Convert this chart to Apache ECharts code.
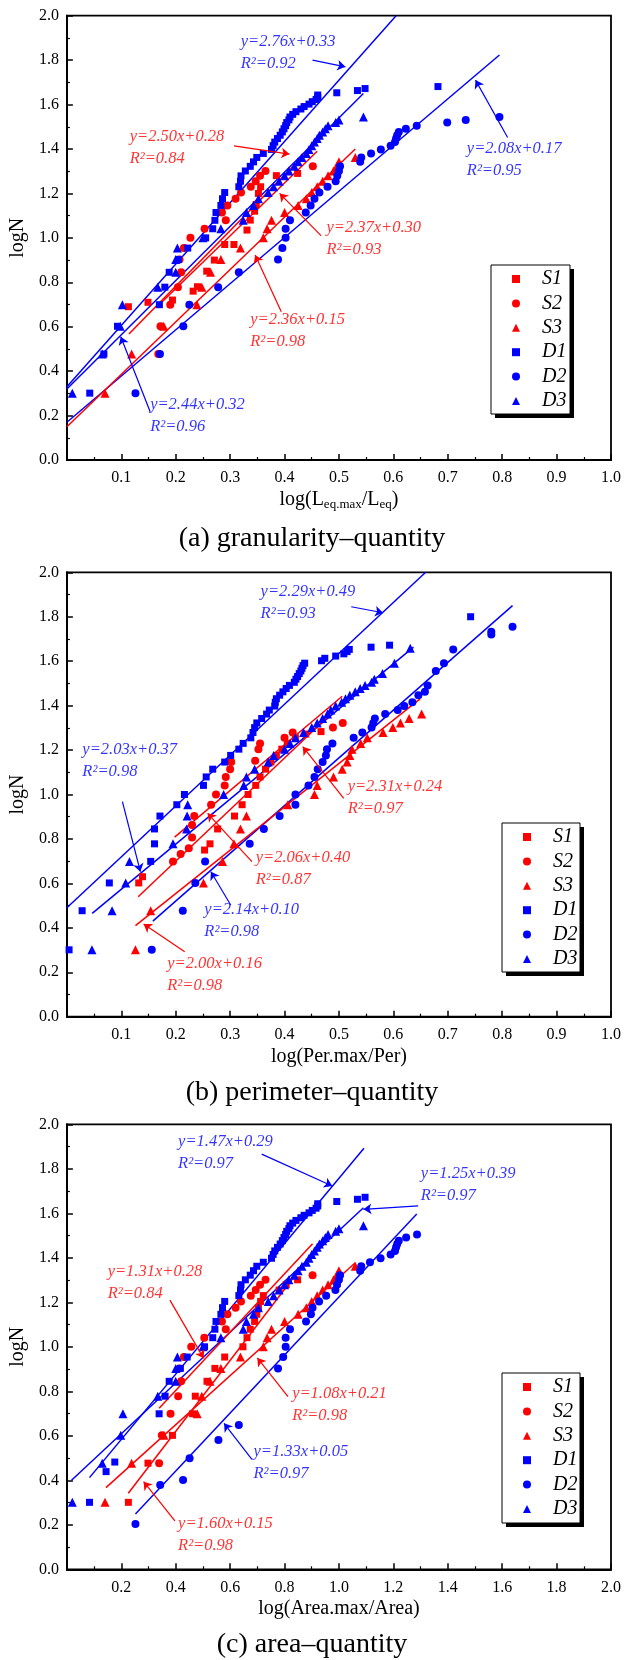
<!DOCTYPE html>
<html><head><meta charset="utf-8">
<script src="https://cdn.jsdelivr.net/npm/echarts@6/dist/echarts.min.js"></script>
<style>html,body{margin:0;padding:0;background:#fff}#c{width:624px;height:1660px}</style>
</head><body><div id="c"></div>
<script>
// ---------------- DATA ----------------
const seriesNames = ['S1','S2','S3','D1','D2','D3'];
const yTicks = [0,0.2,0.4,0.6,0.8,1.0,1.2,1.4,1.6,1.8,2.0];
const captions = ['(a) granularity\u2013quantity','(b) perimeter\u2013quantity','(c) area\u2013quantity'];

// Panel (a): log(Leq.max/Leq) vs logN
const a_S1 = [[0.113,0.69],[0.149,0.71],[0.194,0.72],[0.232,0.76],[0.240,0.78],[0.257,0.85],[0.271,0.90],[0.290,0.97],[0.307,0.97],[0.331,1.035],[0.337,1.08],[0.345,1.12],[0.348,1.15],[0.352,1.20],[0.356,1.23],[0.385,1.28],[0.424,1.29]];
const a_S2 = [[0.168,0.477],[0.172,0.602],[0.190,0.699],[0.204,0.778],[0.210,0.845],[0.207,0.903],[0.215,0.954],[0.227,1.0],[0.253,1.041],[0.292,1.079],[0.285,1.114],[0.295,1.146],[0.310,1.176],[0.320,1.204],[0.338,1.230],[0.347,1.255],[0.355,1.279],[0.365,1.301],[0.452,1.322]];
const a_S3 = [[0.070,0.301],[0.119,0.477],[0.178,0.602],[0.239,0.699],[0.248,0.778],[0.264,0.845],[0.283,0.903],[0.319,0.954],[0.361,1.0],[0.368,1.041],[0.376,1.079],[0.400,1.114],[0.425,1.146],[0.440,1.176],[0.450,1.204],[0.460,1.230],[0.470,1.255],[0.480,1.279],[0.490,1.301],[0.496,1.322],[0.500,1.342],[0.530,1.362]];
const a_D1 = [[0.042,0.301],[0.068,0.477],[0.093,0.602],[0.170,0.699],[0.180,0.778],[0.188,0.845],[0.205,0.903],[0.222,0.954],[0.255,1.0],[0.268,1.041],[0.272,1.079],[0.274,1.114],[0.283,1.146],[0.286,1.176],[0.290,1.204],[0.316,1.230],[0.319,1.255],[0.320,1.279],[0.328,1.301],[0.337,1.322],[0.343,1.342],[0.349,1.362],[0.361,1.380],[0.376,1.398],[0.379,1.415],[0.382,1.431],[0.387,1.447],[0.392,1.462],[0.396,1.477],[0.399,1.491],[0.402,1.505],[0.404,1.519],[0.408,1.531],[0.410,1.544],[0.415,1.556],[0.421,1.568],[0.430,1.580],[0.436,1.591],[0.445,1.602],[0.451,1.613],[0.458,1.623],[0.461,1.633],[0.461,1.643],[0.496,1.653],[0.534,1.663],[0.548,1.672],[0.682,1.681]];
const a_D2 = [[0.126,0.301],[0.171,0.477],[0.214,0.602],[0.225,0.699],[0.278,0.778],[0.316,0.845],[0.388,0.903],[0.396,0.954],[0.402,1.0],[0.402,1.041],[0.410,1.079],[0.439,1.114],[0.448,1.146],[0.455,1.176],[0.464,1.204],[0.479,1.230],[0.494,1.255],[0.497,1.279],[0.500,1.301],[0.502,1.322],[0.539,1.342],[0.541,1.362],[0.559,1.380],[0.577,1.398],[0.595,1.415],[0.603,1.431],[0.605,1.447],[0.607,1.462],[0.610,1.477],[0.623,1.491],[0.643,1.505],[0.699,1.519],[0.733,1.531],[0.795,1.544]];
const a_D3 = [[0.010,0.301],[0.065,0.477],[0.098,0.602],[0.102,0.699],[0.167,0.778],[0.200,0.845],[0.200,0.903],[0.203,0.954],[0.250,1.0],[0.283,1.041],[0.324,1.079],[0.330,1.114],[0.343,1.146],[0.352,1.176],[0.370,1.204],[0.380,1.230],[0.390,1.255],[0.400,1.279],[0.408,1.301],[0.418,1.322],[0.425,1.342],[0.432,1.362],[0.440,1.380],[0.445,1.398],[0.450,1.415],[0.455,1.431],[0.460,1.447],[0.464,1.462],[0.470,1.477],[0.475,1.491],[0.480,1.505],[0.494,1.519],[0.500,1.531],[0.545,1.544]];
const a_fits = [[[0,0.33],[0.605,2.0]],[[0,0.32],[0.545,1.65]],[[0,0.17],[0.795,1.823]],[[0,0.15],[0.53,1.40]],[[0.114,0.567],[0.47,1.458]],[[0.17,0.70],[0.46,1.39]]];
const a_eq = ['y=2.76x+0.33','y=2.08x+0.17','y=2.50x+0.28','y=2.37x+0.30','y=2.36x+0.15','y=2.44x+0.32'];
const a_r2 = ['R\u00b2=0.92','R\u00b2=0.95','R\u00b2=0.84','R\u00b2=0.93','R\u00b2=0.98','R\u00b2=0.96'];

// Panel (b): log(Per.max/Per) vs logN
const b_S1 = [[0.132,0.602],[0.139,0.63],[0.253,0.75],[0.263,0.778],[0.277,0.845],[0.308,0.903],[0.322,0.954],[0.333,1.0],[0.347,1.041],[0.355,1.079],[0.365,1.114],[0.375,1.146],[0.385,1.176],[0.395,1.204],[0.405,1.230],[0.420,1.255],[0.439,1.272],[0.467,1.283]];
const b_S2 = [[0.195,0.699],[0.209,0.732],[0.224,0.758],[0.230,0.807],[0.230,0.863],[0.234,0.903],[0.265,0.954],[0.274,1.0],[0.290,1.041],[0.292,1.079],[0.300,1.114],[0.302,1.146],[0.346,1.152],[0.352,1.204],[0.355,1.230],[0.400,1.255],[0.415,1.279],[0.489,1.301],[0.507,1.322]];
const b_S3 = [[0.126,0.301],[0.154,0.477],[0.251,0.602],[0.286,0.699],[0.307,0.778],[0.319,0.845],[0.330,0.903],[0.406,0.954],[0.455,1.0],[0.460,1.041],[0.490,1.079],[0.506,1.114],[0.515,1.146],[0.520,1.176],[0.524,1.204],[0.540,1.230],[0.552,1.255],[0.581,1.279],[0.599,1.301],[0.613,1.322],[0.629,1.342],[0.652,1.362]];
const b_D1 = [[0.004,0.301],[0.028,0.477],[0.078,0.602],[0.154,0.699],[0.161,0.778],[0.161,0.845],[0.171,0.903],[0.202,0.954],[0.216,1.0],[0.251,1.041],[0.256,1.079],[0.268,1.114],[0.290,1.146],[0.301,1.176],[0.316,1.204],[0.324,1.230],[0.338,1.255],[0.342,1.279],[0.345,1.301],[0.349,1.322],[0.358,1.342],[0.367,1.362],[0.372,1.380],[0.382,1.398],[0.383,1.415],[0.385,1.431],[0.391,1.447],[0.397,1.462],[0.403,1.477],[0.409,1.491],[0.418,1.505],[0.421,1.519],[0.424,1.531],[0.427,1.544],[0.430,1.556],[0.432,1.568],[0.434,1.580],[0.437,1.591],[0.468,1.602],[0.474,1.613],[0.494,1.623],[0.509,1.633],[0.515,1.643],[0.519,1.653],[0.559,1.663],[0.593,1.672],[0.742,1.80]];
const b_D2 = [[0.156,0.301],[0.213,0.477],[0.236,0.602],[0.254,0.699],[0.336,0.778],[0.362,0.845],[0.391,0.903],[0.420,0.954],[0.420,1.0],[0.444,1.041],[0.455,1.079],[0.461,1.114],[0.470,1.146],[0.476,1.176],[0.478,1.204],[0.488,1.230],[0.527,1.255],[0.543,1.279],[0.560,1.301],[0.563,1.322],[0.566,1.342],[0.585,1.362],[0.608,1.380],[0.620,1.398],[0.635,1.415],[0.646,1.447],[0.658,1.462],[0.663,1.491],[0.678,1.556],[0.693,1.591],[0.710,1.653],[0.780,1.72],[0.780,1.733],[0.819,1.755]];
const b_D3 = [[0.046,0.301],[0.083,0.477],[0.108,0.602],[0.115,0.699],[0.195,0.778],[0.220,0.845],[0.221,0.903],[0.222,0.954],[0.288,1.0],[0.325,1.041],[0.330,1.079],[0.345,1.114],[0.370,1.146],[0.380,1.176],[0.400,1.204],[0.410,1.230],[0.420,1.255],[0.435,1.279],[0.450,1.301],[0.460,1.322],[0.470,1.342],[0.479,1.362],[0.485,1.380],[0.494,1.398],[0.505,1.415],[0.512,1.431],[0.520,1.447],[0.530,1.462],[0.539,1.477],[0.548,1.491],[0.560,1.505],[0.565,1.519],[0.580,1.544],[0.602,1.591],[0.631,1.658]];
const b_fits = [[[0,0.49],[0.6594,2.0]],[[0.0465,0.465],[0.637,1.663]],[[0.158,0.43],[0.819,1.85]],[[0.126,0.41],[0.649,1.43]],[[0.131,0.54],[0.48,1.35]],[[0.198,0.808],[0.506,1.442]]];
const b_eq = ['y=2.29x+0.49','y=2.03x+0.37','y=2.31x+0.24','y=2.06x+0.40','y=2.14x+0.10','y=2.00x+0.16'];
const b_r2 = ['R\u00b2=0.93','R\u00b2=0.98','R\u00b2=0.97','R\u00b2=0.87','R\u00b2=0.98','R\u00b2=0.98'];

// Panel (c): log(Area.max/Area) vs logN
const c_S1 = [[0.226,0.301],[0.298,0.477],[0.388,0.602],[0.462,0.699],[0.472,0.778],[0.515,0.845],[0.544,0.903],[0.580,0.954],[0.647,1.0],[0.662,1.041],[0.674,1.079],[0.690,1.114],[0.698,1.146],[0.704,1.176],[0.712,1.204],[0.722,1.230],[0.780,1.255],[0.806,1.279],[0.848,1.301]];
const c_S2 = [[0.339,0.477],[0.349,0.602],[0.381,0.699],[0.409,0.778],[0.420,0.845],[0.414,0.903],[0.430,0.954],[0.457,1.0],[0.505,1.041],[0.584,1.079],[0.570,1.114],[0.590,1.146],[0.620,1.176],[0.640,1.204],[0.676,1.230],[0.694,1.255],[0.710,1.279],[0.730,1.301],[0.903,1.322]];
const c_S3 = [[0.140,0.301],[0.238,0.477],[0.357,0.602],[0.479,0.699],[0.496,0.778],[0.526,0.845],[0.566,0.903],[0.638,0.954],[0.722,1.0],[0.736,1.041],[0.752,1.079],[0.800,1.114],[0.850,1.146],[0.880,1.176],[0.900,1.204],[0.920,1.230],[0.940,1.255],[0.960,1.279],[0.980,1.301],[0.992,1.322],[1.000,1.342],[1.060,1.362]];
const c_D1 = [[0.083,0.301],[0.144,0.439],[0.176,0.482],[0.339,0.699],[0.361,0.778],[0.376,0.845],[0.417,0.903],[0.442,0.954],[0.506,1.0],[0.536,1.041],[0.544,1.079],[0.548,1.114],[0.566,1.146],[0.572,1.176],[0.580,1.204],[0.632,1.230],[0.638,1.255],[0.640,1.279],[0.656,1.301],[0.674,1.322],[0.686,1.342],[0.698,1.362],[0.722,1.380],[0.752,1.398],[0.758,1.415],[0.764,1.431],[0.774,1.447],[0.784,1.462],[0.792,1.477],[0.798,1.491],[0.804,1.505],[0.808,1.519],[0.816,1.531],[0.820,1.544],[0.830,1.556],[0.842,1.568],[0.860,1.580],[0.872,1.591],[0.890,1.602],[0.902,1.613],[0.916,1.623],[0.922,1.633],[0.922,1.643],[0.992,1.653],[1.068,1.663],[1.096,1.672]];
const c_D2 = [[0.252,0.204],[0.343,0.379],[0.427,0.401],[0.451,0.499],[0.557,0.581],[0.632,0.648],[0.776,0.903],[0.795,0.954],[0.804,1.0],[0.804,1.041],[0.820,1.079],[0.879,1.114],[0.897,1.146],[0.903,1.176],[0.927,1.204],[0.953,1.230],[0.987,1.255],[0.993,1.279],[1.000,1.301],[1.004,1.322],[1.078,1.342],[1.082,1.362],[1.114,1.380],[1.153,1.398],[1.190,1.415],[1.206,1.431],[1.210,1.447],[1.214,1.462],[1.220,1.477],[1.247,1.491],[1.287,1.505]];
const c_D3 = [[0.020,0.301],[0.130,0.477],[0.198,0.602],[0.206,0.699],[0.334,0.778],[0.400,0.845],[0.400,0.903],[0.406,0.954],[0.500,1.0],[0.566,1.041],[0.648,1.079],[0.660,1.114],[0.686,1.146],[0.704,1.176],[0.740,1.204],[0.760,1.230],[0.780,1.255],[0.800,1.279],[0.816,1.301],[0.836,1.322],[0.850,1.342],[0.864,1.362],[0.880,1.380],[0.890,1.398],[0.900,1.415],[0.910,1.431],[0.920,1.447],[0.928,1.462],[0.940,1.477],[0.950,1.491],[0.960,1.505],[0.988,1.519],[1.000,1.531],[1.090,1.544]];
const c_fits = [[[0.083,0.412],[1.092,1.892]],[[0.017,0.40],[1.09,1.625]],[[0.252,0.2485],[1.286,1.597]],[[0.1436,0.367],[1.06,1.378]],[[0.2257,0.342],[0.87,1.37]],[[0.339,0.724],[0.903,1.463]]];
const c_eq = ['y=1.47x+0.29','y=1.25x+0.39','y=1.31x+0.28','y=1.08x+0.21','y=1.33x+0.05','y=1.60x+0.15'];
const c_r2 = ['R\u00b2=0.97','R\u00b2=0.97','R\u00b2=0.84','R\u00b2=0.98','R\u00b2=0.97','R\u00b2=0.98'];

// ---------------- LAYOUT / STYLE ----------------
const FONT = '"Liberation Serif","Times New Roman",serif';
const RED = '#ff0000', BLUE = '#0000ff';
const symColors = [RED,RED,RED,BLUE,BLUE,BLUE];
const symShapes = ['rect','circle','triangle','rect','circle','triangle'];
const symSizes = [7,8,9,7,8,9];
const grids = [
  {left:60.3, top:15.7, width:553, height:444.3},
  {left:60.3, top:572.3, width:553, height:444.4},
  {left:60.3, top:1124.3, width:553, height:445}
];
const xMax = [1,1,2], xInt = [0.1,0.1,0.2];
const xNames = ['log(L{sub|eq.max}/L{sub|eq})','log(Per.max/Per)','log(Area.max/Area)'];
const legendBox = [{x:491,y:265,w:79,h:149},{x:502,y:823,w:78,h:149},{x:502,y:1373,w:78,h:150}];
const captionY = [541,1095,1647];
const fitColors = [
  [BLUE,BLUE,BLUE,RED,RED,RED],
  [BLUE,BLUE,BLUE,RED,RED,RED],
  [BLUE,BLUE,BLUE,RED,RED,RED]
];
const annColors = [
  [BLUE,BLUE,RED,RED,RED,BLUE],
  [BLUE,BLUE,RED,RED,BLUE,RED],
  [BLUE,BLUE,RED,RED,BLUE,RED]
];
// label anchors (left edge, first row centre) and arrows (tail -> head), in data units
const annAt = [
  [[0.3195,1.883],[0.735,1.403],[0.1154,1.455],[0.477,1.045],[0.337,0.633],[0.153,0.2475]],
  [[0.356,1.913],[0.0284,1.203],[0.516,1.035],[0.347,0.717],[0.2526,0.480],[0.1845,0.237]],
  [[0.4087,1.922],[1.301,1.78],[0.1497,1.3375],[0.828,0.791],[0.686,0.5285],[0.4087,0.2067]]
];
const annArrow = [
  [[[0.4515,1.80],[0.5118,1.770]],[[0.810,1.452],[0.751,1.71]],[[0.307,1.414],[0.409,1.377]],[[0.467,1.01],[0.391,1.2]],[[0.394,0.667],[0.346,0.923]],[[0.153,0.217],[0.099,0.555]]],
  [[[0.5226,1.845],[0.581,1.818]],[[0.102,0.9676],[0.135,0.6526]],[[0.5088,0.983],[0.4335,1.215]],[[0.340,0.6976],[0.2586,0.9154]],[[0.301,0.5027],[0.2647,0.6526]],[[0.2165,0.2925],[0.141,0.417]]],
  [[[0.716,1.866],[0.9754,1.723]],[[1.291,1.633],[1.090,1.618]],[[0.3787,1.210],[0.5027,0.948]],[[0.8127,0.776],[0.70,0.95]],[[0.68,0.494],[0.5776,0.656]],[[0.397,0.218],[0.282,0.394]]]
];

const panelData = [
  [a_S1,a_S2,a_S3,a_D1,a_D2,a_D3],
  [b_S1,b_S2,b_S3,b_D1,b_D2,b_D3],
  [c_S1,c_S2,c_S3,c_D1,c_D2,c_D3]
];
const panelFits = [a_fits,b_fits,c_fits];
const panelEq = [a_eq,b_eq,c_eq];
const panelR2 = [a_r2,b_r2,c_r2];

// ---------------- BUILD ----------------
const chart = echarts.init(document.getElementById('c'), null, {renderer:'canvas'});
const xAxis = [], yAxis = [], series = [], legend = [], graphic = [];
for (let p = 0; p < 3; p++) {
  xAxis.push({
    type:'value', gridIndex:p, min:0, max:xMax[p], interval:xInt[p],
    name:xNames[p], nameLocation:'middle', nameGap:22,
    nameTextStyle:{fontFamily:FONT, fontSize:20, color:'#000', lineHeight:26,
      rich:{sub:{fontFamily:FONT, fontSize:13, color:'#000', padding:[10,0,0,0], lineHeight:16}}},
    axisLine:{show:true, onZero:false, lineStyle:{color:'#000', width:2}},
    axisTick:{show:true, inside:true, length:6, lineStyle:{color:'#000', width:1.5}},
    minorTick:{show:true, splitNumber:2, length:3, lineStyle:{color:'#000', width:1.2}},
    splitLine:{show:false},
    axisLabel:{fontFamily:FONT, fontSize:16, color:'#000', margin:10,
      formatter:v => v === 0 ? '' : v.toFixed(1)}
  });
  yAxis.push({
    type:'value', gridIndex:p, min:yTicks[0], max:yTicks[yTicks.length-1], interval:0.2,
    name:'logN', nameLocation:'middle', nameGap:32,
    nameTextStyle:{fontFamily:FONT, fontSize:20, color:'#000'},
    axisLine:{show:true, onZero:false, lineStyle:{color:'#000', width:2}},
    axisTick:{show:true, inside:true, length:6, lineStyle:{color:'#000', width:1.5}},
    minorTick:{show:true, splitNumber:2, length:3, lineStyle:{color:'#000', width:1.2}},
    splitLine:{show:false},
    axisLabel:{fontFamily:FONT, fontSize:16, color:'#000', margin:8, formatter:v => v.toFixed(1)}
  });
  panelFits[p].forEach((f, i) => {
    series.push({type:'line', xAxisIndex:p, yAxisIndex:p, data:f, symbol:'none', silent:true,
      lineStyle:{color:fitColors[p][i], width:1.5}, z:2});
  });
  panelData[p].forEach((d, j) => {
    series.push({type:'scatter', name:seriesNames[j], xAxisIndex:p, yAxisIndex:p, data:d,
      symbol:symShapes[j], symbolSize:symSizes[j], itemStyle:{color:symColors[j], opacity:1}, z:3, silent:true});
  });
  panelEq[p].forEach((eq, i) => {
    const col = annColors[p][i];
    series.push({type:'scatter', xAxisIndex:p, yAxisIndex:p, data:[annAt[p][i]], symbolSize:1,
      itemStyle:{color:'rgba(0,0,0,0)'}, silent:true, z:5,
      label:{show:true, position:'inside', align:'left', verticalAlign:'top', offset:[0,-11],
        formatter:eq + '\n' + panelR2[p][i], color:col, fontFamily:FONT, fontStyle:'italic', fontSize:16.5, lineHeight:22},
      markLine:{silent:true, symbol:['none','arrow'], symbolSize:8, animation:false,
        lineStyle:{color:col, width:1.2, type:'solid', opacity:1}, label:{show:false},
        data:[[{coord:annArrow[p][i][0]},{coord:annArrow[p][i][1]}]]}
    });
  });
  const lb = legendBox[p];
  legend.push({
    data:seriesNames, orient:'vertical', left:lb.x, top:lb.y, z:8,
    padding:[4,8,3,21], itemGap:4.4, itemWidth:8, itemHeight:8, selectedMode:false,
    textStyle:{fontFamily:FONT, fontStyle:'italic', fontSize:20, color:'#000', lineHeight:20, padding:[0,0,0,17]}
  });
  graphic.push({type:'rect', z:6, silent:true, shape:{x:lb.x+4, y:lb.y+4, width:lb.w, height:lb.h}, style:{fill:'#000'}});
  graphic.push({type:'rect', z:7, silent:true, shape:{x:lb.x, y:lb.y, width:lb.w, height:lb.h}, style:{fill:'#fff', stroke:'#000', lineWidth:1}});
  graphic.push({type:'text', left:'center', top:captionY[p]-16,
    style:{text:captions[p], font:'28px ' + FONT, fill:'#000'}});
}

chart.setOption({
  animation:false,
  backgroundColor:'#fff',
  grid:grids.map(g => Object.assign({show:true, borderColor:'#000', borderWidth:1.8, containLabel:false}, g)),
  xAxis, yAxis, series, legend, graphic
});
</script></body></html>
